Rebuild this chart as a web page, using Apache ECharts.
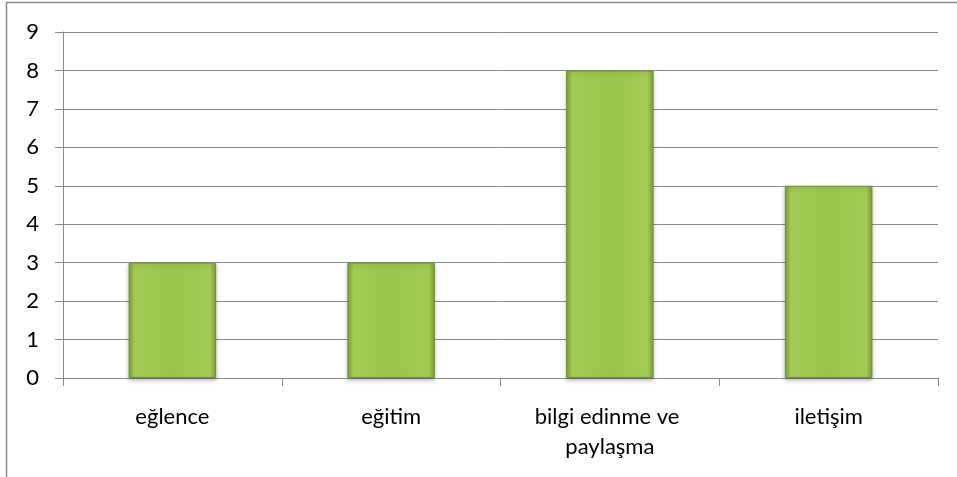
<!DOCTYPE html>
<html>
<head>
<meta charset="utf-8">
<script src="https://cdn.jsdelivr.net/npm/echarts@6/dist/echarts.min.js"></script>
<style>
  html, body { margin: 0; padding: 0; background: #fff; }
  #chart { width: 957px; height: 477px; }
</style>
</head>
<body>
<div id="chart"></div>
<script>
const categories = ['eğlence', 'eğitim', 'bilgi edinme ve paylaşma', 'iletişim']
const values = [3, 3, 8, 5]
const yTicks = { min: 0, max: 9, interval: 1 }

const chart = echarts.init(document.getElementById('chart'))

// bevelled green bar look
const barColor = new echarts.graphic.LinearGradient(0, 0, 1, 0, [
  { offset: 0, color: '#7ea235' },
  { offset: 0.07, color: '#a3cb55' },
  { offset: 0.5, color: '#9cc54c' },
  { offset: 0.93, color: '#a3cb55' },
  { offset: 1, color: '#7ea235' }
])

const option = {
  animation: false,
  backgroundColor: '#fff',
  textStyle: { fontFamily: 'Lato, "Open Sans", sans-serif' },
  graphic: [
    {
      type: 'rect',
      shape: { x: 6.5, y: 2.5, width: 980, height: 500 },
      style: { fill: 'none', stroke: '#8a8a8a', lineWidth: 1.5 },
      silent: true
    }
  ],
  grid: { left: 63, right: 19, top: 32, bottom: 99 },
  xAxis: {
    type: 'category',
    data: categories,
    axisLine: { show: true, lineStyle: { color: '#8a8a8a', width: 1 } },
    axisTick: { show: true, length: 8, alignWithLabel: false, lineStyle: { color: '#8a8a8a' } },
    axisLabel: {
      color: '#000',
      fontSize: 22,
      lineHeight: 30,
      margin: 24,
      interval: 0,
      width: 200,
      overflow: 'break'
    }
  },
  yAxis: {
    type: 'value',
    min: yTicks.min,
    max: yTicks.max,
    interval: yTicks.interval,
    axisLine: { show: true, lineStyle: { color: '#8a8a8a', width: 1 } },
    axisTick: { show: true, length: 8, lineStyle: { color: '#8a8a8a' } },
    axisLabel: { color: '#000', fontSize: 22, margin: 24 },
    splitLine: { show: true, lineStyle: { color: '#8a8a8a', width: 1 } }
  },
  series: [
    {
      type: 'bar',
      data: values,
      barWidth: '40%',
      itemStyle: {
        color: barColor,
        borderColor: '#6f9230',
        borderWidth: 1,
        shadowColor: 'rgba(0,0,0,0.25)',
        shadowBlur: 4,
        shadowOffsetY: 2
      }
    }
  ]
}

chart.setOption(option)
</script>
</body>
</html>
